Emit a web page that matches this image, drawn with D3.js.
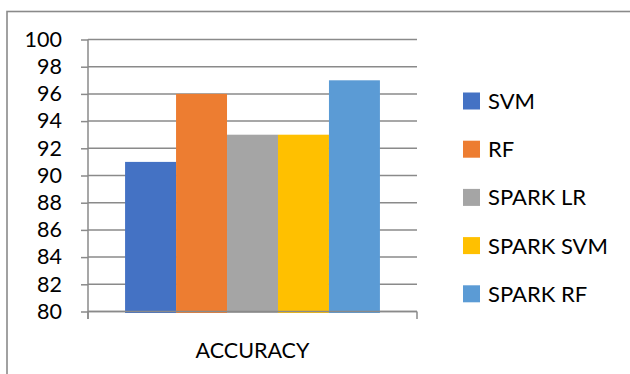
<!DOCTYPE html>
<html>
<head>
<meta charset="utf-8">
<script src="https://cdn.jsdelivr.net/npm/d3@7"></script>
<style>
  html, body { margin: 0; padding: 0; background: #fff; }
  svg { display: block; }
  text { font-family: Lato, "Open Sans", sans-serif; fill: #000; }
</style>
</head>
<body>
<svg id="chart" width="630" height="374"></svg>
<script>
// Accuracy of each classifier
const categories = ["ACCURACY"];
const seriesNames = ["SVM", "RF", "SPARK LR", "SPARK SVM", "SPARK RF"];
const accuracy = [91, 96, 93, 93, 97];
const seriesColors = ["#4472C4", "#ED7D31", "#A5A5A5", "#FFC000", "#5B9BD5"];
const yTicks = [80, 82, 84, 86, 88, 90, 92, 94, 96, 98, 100];

const svg = d3.select("#chart");
const axisColor = "#8a8a8a";

// outer frame
svg.append("rect")
  .attr("x", 7).attr("y", 11.5)
  .attr("width", 640).attr("height", 380)
  .attr("fill", "none")
  .attr("stroke", axisColor)
  .attr("stroke-width", 1.6);

const plot = { left: 88, right: 417, top: 39.5, bottom: 311.5 };

const y = d3.scaleLinear().domain([80, 100]).range([plot.bottom, plot.top]);
const x0 = d3.scaleBand().domain(categories).range([plot.left, plot.right]).padding(0.127);
const x1 = d3.scaleBand().domain(seriesNames).range([0, x0.bandwidth()]);

// horizontal gridlines
svg.append("g")
  .selectAll("line")
  .data(yTicks)
  .join("line")
  .attr("x1", plot.left).attr("x2", plot.right)
  .attr("y1", d => y(d)).attr("y2", d => y(d))
  .attr("stroke", axisColor)
  .attr("stroke-width", 1.5);

// bars
const rows = seriesNames.map((name, i) => ({ name, value: accuracy[i], color: seriesColors[i] }));
svg.append("g")
  .selectAll("g")
  .data(categories)
  .join("g")
  .attr("transform", c => `translate(${x0(c)},0)`)
  .selectAll("rect")
  .data(rows)
  .join("rect")
  .attr("x", d => x1(d.name))
  .attr("width", x1.bandwidth())
  .attr("y", d => y(d.value))
  .attr("height", d => y(80) - y(d.value) + 1.5)
  .attr("fill", d => d.color);

// value axis
const yAxis = svg.append("g")
  .attr("transform", `translate(${plot.left},0)`)
  .call(d3.axisLeft(y).tickValues(yTicks).tickSize(7).tickPadding(19).tickFormat(d3.format("d")));
yAxis.select(".domain").remove();
yAxis.selectAll(".tick line").attr("stroke", axisColor).attr("stroke-width", 1.5);
yAxis.selectAll(".tick text").attr("font-size", 21.5).attr("font-family", "Lato, sans-serif").attr("fill", "#000");
yAxis.append("line")
  .attr("x1", 0).attr("x2", 0)
  .attr("y1", plot.top).attr("y2", plot.bottom + 7.5)
  .attr("stroke", axisColor).attr("stroke-width", 1.5);

// category axis with boundary ticks
const xAxis = svg.append("g");
xAxis.append("line")
  .attr("x1", plot.left).attr("x2", plot.right)
  .attr("y1", plot.bottom).attr("y2", plot.bottom)
  .attr("stroke", axisColor).attr("stroke-width", 1.5);
xAxis.selectAll("line.edge")
  .data([plot.left, plot.right])
  .join("line")
  .attr("class", "edge")
  .attr("x1", d => d).attr("x2", d => d)
  .attr("y1", plot.bottom).attr("y2", plot.bottom + 7.5)
  .attr("stroke", axisColor).attr("stroke-width", 1.5);
xAxis.selectAll("text")
  .data(categories)
  .join("text")
  .attr("x", c => x0(c) + x0.bandwidth() / 2)
  .attr("y", 357.5)
  .attr("text-anchor", "middle")
  .attr("font-size", 21.5)
  .text(c => c);

// legend
const legend = svg.append("g").attr("transform", "translate(463,101)");
const item = legend.selectAll("g")
  .data(rows)
  .join("g")
  .attr("transform", (d, i) => `translate(0,${i * 48.2})`);
item.append("rect")
  .attr("x", 0).attr("y", -8.5)
  .attr("width", 17).attr("height", 17)
  .attr("fill", d => d.color);
item.append("text")
  .attr("x", 25).attr("y", 0)
  .attr("dy", "0.36em")
  .attr("font-size", 22)
  .text(d => d.name);
</script>
</body>
</html>
